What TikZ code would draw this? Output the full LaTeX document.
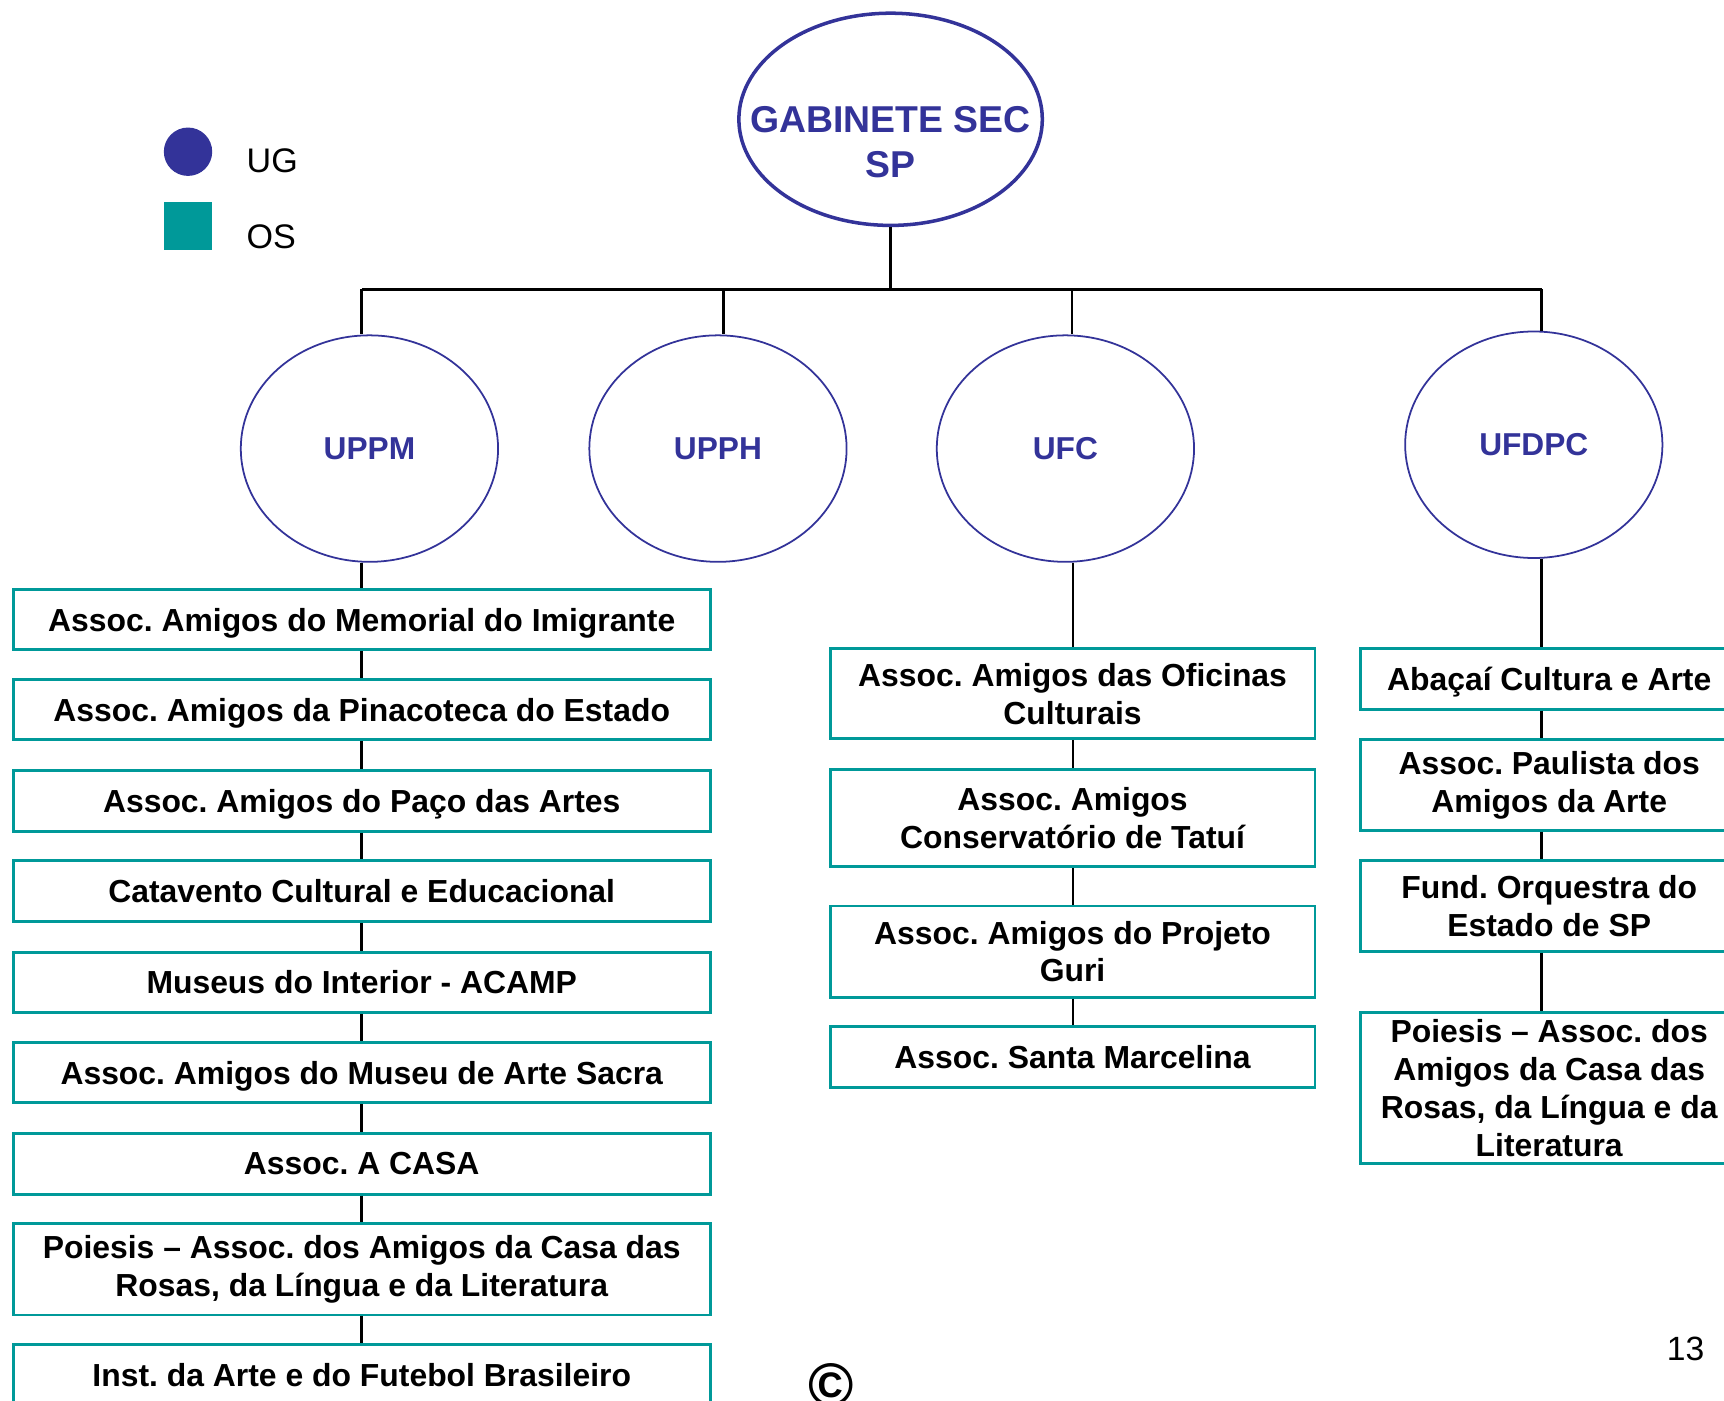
\documentclass[tikz,border=0pt]{standalone}
\usepackage{fontspec}
\setmainfont{Liberation Sans}
\usetikzlibrary{shapes.geometric}
\definecolor{ugblue}{HTML}{333399}
\definecolor{osteal}{HTML}{009999}
\frenchspacing
\begin{document}
\frenchspacing
\begin{tikzpicture}[x=0.5pt,y=-0.5pt,
  conn/.style={line width=1.25pt, draw=black},
  unit/.style={ellipse, draw=ugblue, line width=0.8pt, minimum width=117pt, minimum height=103pt, inner sep=0pt, text=ugblue, font=\fontsize{14.4}{17}\selectfont\bfseries},
  osbox/.style={draw=osteal, line width=1.35pt, rectangle, inner sep=0pt, align=center, font=\fontsize{14.5}{17.25}\selectfont\bfseries},
  oneline/.style={text depth=0pt, minimum height=27.5pt},
  lbox/.style={osbox, minimum width=317pt},
  mbox/.style={osbox, minimum width=220.5pt},
  rbox/.style={osbox, minimum width=172pt},
  legtext/.style={anchor=west, inner sep=0pt, font=\fontsize{15.5}{18}\selectfont}
]
\useasboundingbox (0,0) rectangle (1568,1274);
\clip (0,0) rectangle (1568,1274);
\fill[white] (0,0) rectangle (1568,1274);

% legend
\node[circle, fill=ugblue, minimum size=22pt, inner sep=0pt] (legc) at (171,138) {};
\node[rectangle, fill=osteal, minimum size=22pt, inner sep=0pt] (legs) at (171,205.5) {};
\node[legtext] (legug) at (224,146) {UG};
\node[legtext] (legos) at (224,215) {OS};

% top
\node[ellipse, draw=ugblue, line width=1.6pt, minimum width=138pt, minimum height=96.5pt, inner sep=0pt] (gab) at (810,108.5) {};
\node[align=center, text=ugblue, inner sep=0pt, font=\fontsize{17}{20.5}\selectfont\bfseries] (gabt) at (810,129) {GABINETE SEC\\SP};

% units
\node[unit] (uppm) at (336,408) {UPPM};
\node[unit] (upph) at (653,408) {UPPH};
\node[unit] (ufc) at (969,408) {UFC};
\node[unit] (ufdpc) at (1395,404.5) {UFDPC};

% bus
\coordinate (busL) at (329,263);
\coordinate (busR) at (1402,263);
\coordinate (busA) at (658,263);
\coordinate (busB) at (975,263);
\draw[conn] (gab.south) -- (gab.south |- busL);
\draw[conn] (busL) -- (busR);
\draw[conn] (busL) -- (uppm.north -| busL);
\draw[conn] (busA) -- (upph.north -| busA);
\draw[conn] (busB) -- (ufc.north -| busB);
\draw[conn] (busR) -- (ufdpc.north -| busR);

% left column
\node[lbox, oneline] (l1) at (329,563.5) {Assoc. Amigos do Memorial do Imigrante};
\node[lbox, oneline] (l2) at (329,645.5) {Assoc. Amigos da Pinacoteca do Estado};
\node[lbox, oneline] (l3) at (329,728.5) {Assoc. Amigos do Paço das Artes};
\node[lbox, oneline] (l4) at (329,810.5) {Catavento Cultural e Educacional};
\node[lbox, oneline] (l5) at (329,893.5) {Museus do Interior - ACAMP};
\node[lbox, oneline] (l6) at (329,975.5) {Assoc. Amigos do Museu de Arte Sacra};
\node[lbox, oneline] (l7) at (329,1058.5) {Assoc. A CASA};
\node[lbox, minimum height=41.5pt] (l8) at (329,1154.5) {Poiesis – Assoc. dos Amigos da Casa das\\Rosas, da Língua e da Literatura};
\node[lbox, oneline] (l9) at (329,1250.5) {Inst. da Arte e do Futebol Brasileiro};

\coordinate (lx) at (329,0);
\draw[conn] (uppm.south -| lx) -- (l1.north);
\draw[conn] (l1) -- (l2);
\draw[conn] (l2) -- (l3);
\draw[conn] (l3) -- (l4);
\draw[conn] (l4) -- (l5);
\draw[conn] (l5) -- (l6);
\draw[conn] (l6) -- (l7);
\draw[conn] (l7) -- (l8);
\draw[conn] (l8) -- (l9);

% middle column
\node[mbox, minimum height=41pt] (m1) at (975.5,631) {Assoc. Amigos das Oficinas\\Culturais};
\node[mbox, minimum height=44pt] (m2) at (975.5,744) {Assoc. Amigos\\Conservatório de Tatuí};
\node[mbox, minimum height=41.5pt] (m3) at (975.5,865.5) {Assoc. Amigos do Projeto\\Guri};
\node[mbox, oneline] (m4) at (975.5,961.5) {Assoc. Santa Marcelina};

\coordinate (mx) at (976,0);
\draw[conn] (ufc.south -| mx) -- (m1.north -| mx);
\draw[conn] (m1.south -| mx) -- (m2.north -| mx);
\draw[conn] (m2.south -| mx) -- (m3.north -| mx);
\draw[conn] (m3.south -| mx) -- (m4.north -| mx);

% right column
\node[rbox, oneline] (r1) at (1409,617.5) {Abaçaí Cultura e Arte};
\node[rbox, minimum height=41pt] (r2) at (1409,714) {Assoc. Paulista dos\\Amigos da Arte};
\node[rbox, minimum height=41pt] (r3) at (1409,824) {Fund. Orquestra do\\Estado de SP};
\node[rbox, minimum height=68.5pt] (r4) at (1409,989.5) {Poiesis – Assoc. dos\\Amigos da Casa das\\Rosas, da Língua e da\\Literatura};

\coordinate (rx) at (1402,0);
\draw[conn] (ufdpc.south -| rx) -- (r1.north -| rx);
\draw[conn] (r1.south -| rx) -- (r2.north -| rx);
\draw[conn] (r2.south -| rx) -- (r3.north -| rx);
\draw[conn] (r3.south -| rx) -- (r4.north -| rx);

% page number and copyright
\node[inner sep=0pt, font=\fontsize{15.3}{18}\selectfont] (pnum) at (1533,1227) {13};
\node[inner sep=0pt, font=\fontsize{28}{28}\selectfont\bfseries] (copyr) at (756,1260) {©};
\end{tikzpicture}
\end{document}
